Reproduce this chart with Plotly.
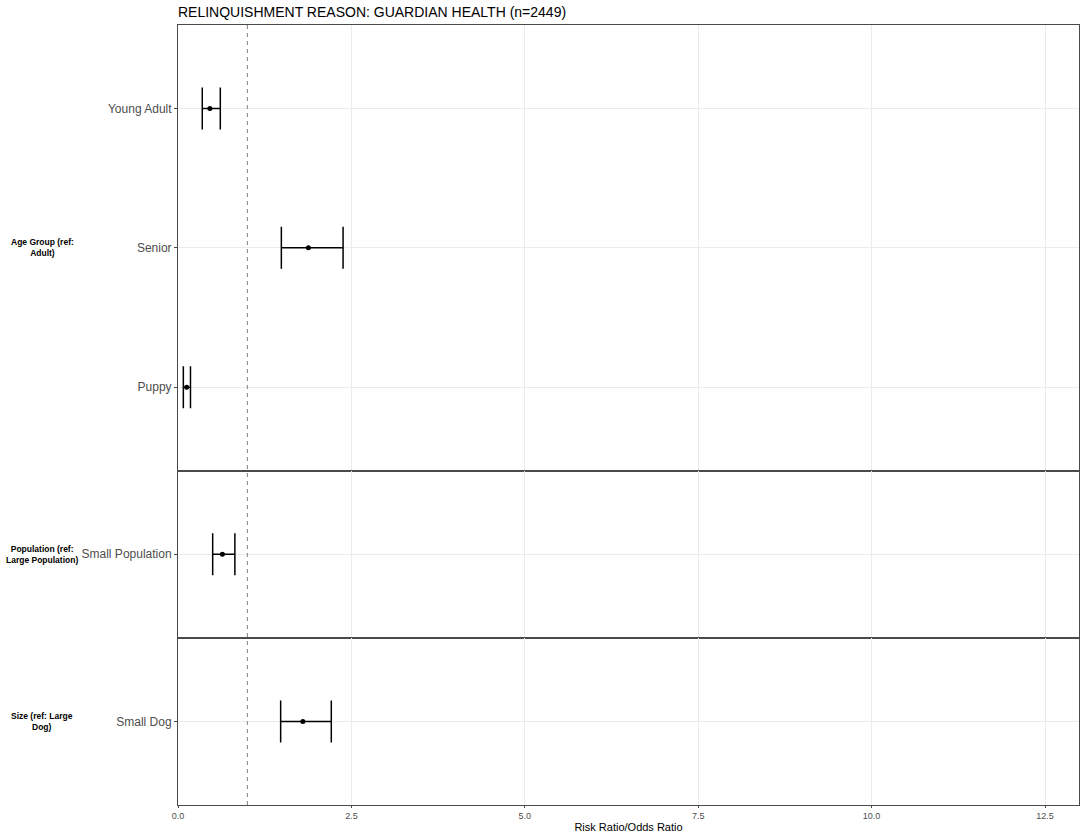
import plotly.graph_objects as go
from plotly.subplots import make_subplots

# ---- data ----
groups = ["Age Group (ref:<br>Adult)", "Population (ref:<br>Large Population)", "Size (ref: Large<br>Dog)"]
age_terms = ["Young Adult", "Senior", "Puppy"]
age_est = [0.46, 1.88, 0.125]
age_lo = [0.35, 1.49, 0.077]
age_hi = [0.61, 2.38, 0.18]

pop_terms = ["Small Population"]
pop_est = [0.64]
pop_lo = [0.50]
pop_hi = [0.82]

size_terms = ["Small Dog"]
size_est = [1.80]
size_lo = [1.48]
size_hi = [2.21]

x_ticks = [0.0, 2.5, 5.0, 7.5, 10.0, 12.5]
title = "RELINQUISHMENT REASON: GUARDIAN HEALTH (n=2449)"
x_title = "Risk Ratio/Odds Ratio"

panels = [
    (age_terms, age_est, age_lo, age_hi),
    (pop_terms, pop_est, pop_lo, pop_hi),
    (size_terms, size_est, size_lo, size_hi),
]

heights = [len(p[0]) + 0.2 for p in panels]
fig = make_subplots(rows=3, cols=1, shared_xaxes=True, vertical_spacing=0,
                    row_heights=heights)

FONT = "Liberation Sans, Arial, sans-serif"
L, R, T, B = 178, 5, 25, 33
BORDER = "#4a4a4a"
for i, (terms, est, lo, hi) in enumerate(panels, start=1):
    fig.add_trace(go.Scatter(
        x=est, y=terms, mode="markers",
        marker=dict(color="black", size=5),
        error_x=dict(type="data", symmetric=False,
                     array=[h - e for h, e in zip(hi, est)],
                     arrayminus=[e - l for e, l in zip(est, lo)],
                     color="black", thickness=1.5, width=21),
        showlegend=False, hoverinfo="x+y"), row=i, col=1)
    fig.update_yaxes(type="category", categoryorder="array",
                     categoryarray=list(reversed(terms)),
                     range=[-0.6, len(terms) - 0.4],
                     showgrid=True, gridcolor="#ebebeb", gridwidth=1,
                     showline=True, mirror=True, linecolor=BORDER, linewidth=1,
                     ticks="outside", ticklen=3, tickcolor=BORDER,
                     tickfont=dict(family=FONT, size=12, color="#4d4d4d"),
                     zeroline=False, row=i, col=1)
    fig.update_xaxes(range=[0, 12.99], tickvals=x_ticks, tickformat=".1f",
                     showgrid=True, gridcolor="#ebebeb", gridwidth=1,
                     showline=True, mirror=True, linecolor=BORDER, linewidth=1,
                     ticks="outside" if i == 3 else "", ticklen=2, tickcolor=BORDER,
                     tickfont=dict(family=FONT, size=9, color="#4d4d4d"),
                     zeroline=False, row=i, col=1)
    yref = "y domain" if i == 1 else f"y{i} domain"
    fig.add_annotation(text="<b>" + groups[i - 1] + "</b>", xref="paper", yref=yref,
                       x=(42 - L) / (1084 - L - R), y=0.5, xanchor="center", yanchor="middle",
                       showarrow=False, align="center",
                       font=dict(family=FONT, size=8.5, color="black"))

fig.update_xaxes(title=dict(text=x_title, font=dict(family=FONT, size=11, color="black"),
                            standoff=3), row=3, col=1)

fig.add_shape(type="line", xref="x", yref="paper", x0=1, x1=1, y0=0, y1=1,
              line=dict(color="#808080", width=1, dash="4px,4px"))

fig.update_layout(
    width=1084, height=838,
    margin=dict(l=L, r=R, t=T, b=B, autoexpand=False),
    plot_bgcolor="white", paper_bgcolor="white",
    title=dict(text=title, x=L / 1084, xanchor="left", y=1 - 12 / 838, yanchor="middle",
               font=dict(family=FONT, size=14, color="black")),
)

fig.write_html("out.html", config={"displayModeBar": False},
               post_script="document.body.style.margin='0';document.body.style.overflow='hidden';")
